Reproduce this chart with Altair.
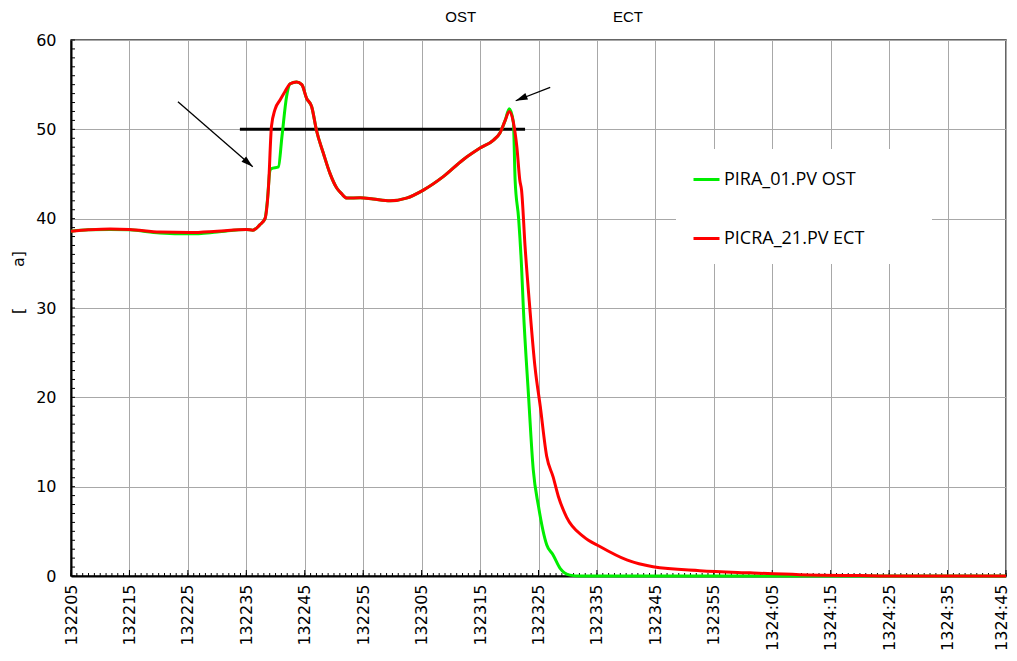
import json
import altair as alt
import pandas as pd

# ---------------- data ----------------
x_labels = ["132205", "132215", "132225", "132235", "132245", "132255",
            "132305", "132315", "132325", "132335", "132345", "132355",
            "1324:05", "1324:15", "1324:25", "1324:35", "1324:45"]
series_names = ["PIRA_01.PV OST", "PICRA_21.PV ECT"]
series_colors = ["#00ee00", "#ff0000"]

# seconds after 13:22:05
red_t = [0, 3, 6.7, 10, 15.2, 20.4, 25, 30, 31.1, 32.3, 33.2, 33.8, 34.3, 34.9,
         35.8, 36.6, 37.5, 38.6, 39.5, 40.3, 41.2, 42.0, 43.2, 44.3, 45.5, 46.3,
         47.2, 49.5, 51.7, 54.6, 57.4, 60.3, 63.7, 67.1, 70.0, 72.3, 73.4, 74.3,
         75.0, 75.7, 76.3, 76.8, 77.1, 77.7, 78.5, 79.4, 80.3, 81.4, 82.5, 83.4,
         84.8, 87.7, 90.5, 95.1, 99.6, 107.6, 116.2, 124.7, 135, 142, 160]
red_v = [38.6, 38.75, 38.85, 38.8, 38.5, 38.45, 38.6, 38.8, 38.7, 39.3, 40.0, 43.6,
         50.3, 52.2, 53.3, 54.2, 55.1, 55.3, 55.0, 53.5, 52.5, 49.9, 47.3, 45.1,
         43.4, 42.8, 42.3, 42.35, 42.2, 42.0, 42.3, 43.2, 44.7, 46.6, 47.9, 48.8,
         49.6, 51.0, 52.0, 50.8, 48.0, 44.3, 43.2, 36.9, 30.1, 23.4, 19.0, 13.4,
         11.1, 8.9, 6.6, 4.4, 3.3, 1.8, 1.04, 0.6, 0.35, 0.15, 0.05, 0, 0]

green_t = [0, 3, 6.7, 10, 15.2, 20.4, 25, 30, 31.1, 32.3, 33.2, 33.6, 34.05, 34.3,
           35.5, 36.1, 36.9, 37.5, 38.6, 39.5, 40.3, 41.2, 42.0, 43.2, 44.3, 45.5,
           46.3, 47.2, 49.5, 51.7, 54.6, 57.4, 60.3, 63.7, 67.1, 70.0, 72.3, 73.4,
           74.3, 75.0, 75.7, 76.0, 76.6, 77.1, 77.4, 78.3, 79.1, 80.0, 81.4, 82.5,
           83.7, 85.4, 87.1, 160]
green_v = [38.6, 38.75, 38.8, 38.75, 38.4, 38.3, 38.5, 38.8, 38.7, 39.3, 40.0, 42.0,
           45.4, 45.6, 45.8, 49.2, 53.7, 55.1, 55.3, 55.0, 53.5, 52.5, 49.9, 47.3,
           45.1, 43.4, 42.8, 42.3, 42.35, 42.2, 42.0, 42.3, 43.2, 44.7, 46.6, 47.9,
           48.8, 49.6, 51.0, 52.3, 50.8, 44.3, 40.0, 34.6, 30.1, 20.1, 11.9, 7.8,
           3.5, 2.35, 0.86, 0.1, 0, 0]

# annotations (data units)
limit_line = {"t": 28.9, "t2": 77.7, "v": 50}
arrows_t1 = [18.3, 82.0]
arrows_v1 = [53.1, 54.7]
arrows_t2 = [31.1, 76.1]
arrows_v2 = [45.8, 53.2]
arrows_angle = [131, 248]
top_labels = ["OST", "ECT"]
top_label_t = [66.7, 95.3]

# ---------------- frames ----------------
green_df = pd.DataFrame({"t": green_t, "v": green_v, "s": series_names[0]})
red_df = pd.DataFrame({"t": red_t, "v": red_v, "s": series_names[1]})
limit_df = pd.DataFrame([limit_line])
arrow_df = pd.DataFrame({"t1": arrows_t1, "v1": arrows_v1, "t2": arrows_t2,
                         "v2": arrows_v2, "a": arrows_angle})
top_df = pd.DataFrame({"t": top_label_t, "txt": top_labels})
x_minor = pd.DataFrame({"t": list(range(0, 161))})
x_major = pd.DataFrame({"t": list(range(0, 161, 10))})
y_minor = pd.DataFrame({"v": list(range(0, 61))})

W, H = 935, 536
TICK_FONT = "DejaVu Sans"

x_scale = alt.Scale(domain=[0, 160], nice=False, zero=False)
y_scale = alt.Scale(domain=[0, 60], nice=False)

label_expr = json.dumps(x_labels) + "[round(datum.value/10)]"

x_axis = alt.Axis(values=list(range(0, 161, 10)), labelExpr=label_expr,
                  labelAngle=-90, labelFont=TICK_FONT, labelFontSize=16,
                  labelColor="black", ticks=False, domainColor="black",
                  domainWidth=2, grid=True, gridColor="#a8a8a8", gridWidth=1,
                  labelPadding=8, labelBound=False, labelOverlap=False,
                  labelFlush=False,
                  labelOffset={"condition": {"test": "datum.value >= 160", "value": -5},
                               "value": 0},
                  title=None)
y_axis = alt.Axis(values=list(range(0, 61, 10)), labelFont=TICK_FONT,
                  labelFontSize=16, labelColor="black", ticks=False,
                  domainColor="black", domainWidth=2, grid=True,
                  gridColor="#a8a8a8", gridWidth=1, labelPadding=15,
                  title="[\u00a0\u00a0\u00a0\u00a0\u00a0\u00a0\u00a0\u00a0a]",
                  titleFont=TICK_FONT, titleFontSize=16, titleFontWeight="normal",
                  titleColor="black", titleX=-53, titleY=242, titleAngle=-90,
                  titleAlign="center", titleBaseline="middle")

pad_spaces = "\u00a0" * 11 + "\u200b"
color_scale = alt.Scale(domain=series_names, range=series_colors)
legend = alt.Legend(orient="none", legendX=605, legendY=109, title=None,
                    fillColor="white", padding=16, rowPadding=35,
                    symbolType="stroke", symbolStrokeWidth=3, symbolSize=676,
                    labelFont="Open Sans", labelFontSize=18, labelColor="black",
                    labelOffset=3, labelLimit=400,
                    labelExpr="datum.label + '" + pad_spaces + "'")

minor_x = alt.Chart(x_minor).mark_rule(color="black", strokeWidth=1).encode(
    x=alt.X("t:Q", scale=x_scale, axis=x_axis),
    y=alt.value(H), y2=alt.value(H - 3))
major_x = alt.Chart(x_major).mark_rule(color="black", strokeWidth=1).encode(
    x=alt.X("t:Q", scale=x_scale),
    y=alt.value(H), y2=alt.value(H - 6))
minor_y = alt.Chart(y_minor).mark_rule(color="black", strokeWidth=1).encode(
    y=alt.Y("v:Q", scale=y_scale, axis=y_axis),
    x=alt.value(0), x2=alt.value(4))

green_line = alt.Chart(green_df).mark_line(strokeWidth=3, interpolate="monotone").encode(
    x=alt.X("t:Q", scale=x_scale),
    y=alt.Y("v:Q", scale=y_scale),
    color=alt.Color("s:N", scale=color_scale, legend=legend))
red_line = alt.Chart(red_df).mark_line(strokeWidth=3, interpolate="monotone").encode(
    x=alt.X("t:Q", scale=x_scale),
    y=alt.Y("v:Q", scale=y_scale),
    color=alt.Color("s:N", scale=color_scale, legend=legend))

limit = alt.Chart(limit_df).mark_rule(color="black", strokeWidth=3).encode(
    x=alt.X("t:Q", scale=x_scale), x2="t2:Q",
    y=alt.Y("v:Q", scale=y_scale))

arrow_lines = alt.Chart(arrow_df).mark_rule(color="black", strokeWidth=1.3).encode(
    x=alt.X("t1:Q", scale=x_scale), x2="t2:Q",
    y=alt.Y("v1:Q", scale=y_scale), y2="v2:Q")
arrow_heads = alt.Chart(arrow_df).mark_point(
    shape="M0,0L-0.3,1L0.3,1Z", filled=True, color="black", opacity=1,
    size=560, strokeWidth=0).encode(
    x=alt.X("t2:Q", scale=x_scale),
    y=alt.Y("v2:Q", scale=y_scale),
    angle=alt.Angle("a:Q", scale=None))

top_text = alt.Chart(top_df).mark_text(font="Liberation Sans", fontSize=15,
                                       color="black", baseline="middle").encode(
    x=alt.X("t:Q", scale=x_scale), y=alt.value(-23), text="txt:N")

chart = alt.layer(
    minor_x, major_x, minor_y, limit, green_line, red_line,
    arrow_lines, arrow_heads, top_text
).properties(
    width=W, height=H,
    autosize=alt.AutoSizeParams(type="none"),
    padding={"left": 63, "top": 32, "right": 3, "bottom": 85},
    background="white",
).configure_view(stroke="#333333", strokeWidth=1.5)

chart.save("out.html", embed_options={"renderer": "svg", "actions": False})
